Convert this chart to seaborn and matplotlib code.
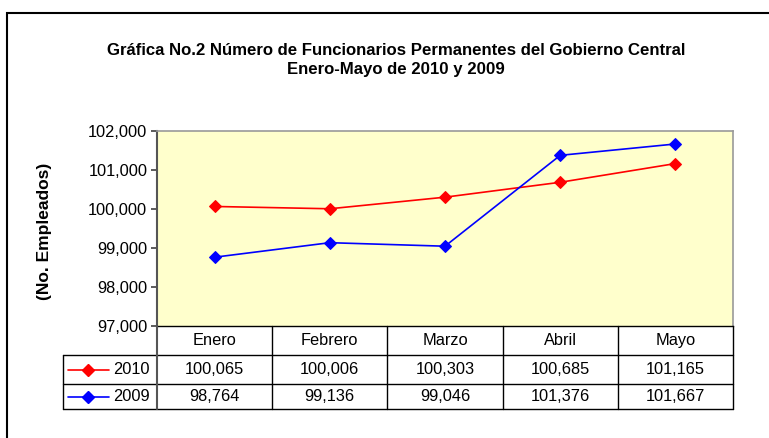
import matplotlib
matplotlib.use("Agg")
import matplotlib.pyplot as plt
import matplotlib.transforms as mtransforms
from matplotlib.lines import Line2D
from matplotlib.patches import Rectangle
import seaborn as sns
import pandas as pd

# ---- data ----
months = ["Enero", "Febrero", "Marzo", "Abril", "Mayo"]
series_names = ["2010", "2009"]
values_2010 = [100065, 100006, 100303, 100685, 101165]
values_2009 = [98764, 99136, 99046, 101376, 101667]
series_colors = {"2010": "#FF0000", "2009": "#0000FF"}
y_ticks = [97000, 98000, 99000, 100000, 101000, 102000]
title_text = "Gráfica No.2 Número de Funcionarios Permanentes del Gobierno Central\nEnero-Mayo de 2010 y 2009"
ylabel_text = "(No. Empleados)"

series_values = {"2010": values_2010, "2009": values_2009}
rows = []
for name in series_names:
    for i, (m, v) in enumerate(zip(months, series_values[name])):
        rows.append({"idx": i, "month": m, "year": name, "value": v})
df = pd.DataFrame(rows)

sns.set_style("white")
plt.rcParams["font.family"] = ["Liberation Sans", "DejaVu Sans"]
plt.rcParams["text.color"] = "black"
plt.rcParams["ytick.color"] = "#404040"
plt.rcParams["ytick.labelcolor"] = "black"

W, H = 769, 438
fig = plt.figure(figsize=(W / 100, H / 100), dpi=100)

def fx(px):
    return px / W

def fy(py):
    return 1 - py / H

left, right, top, bottom = 157, 733, 131, 326
ax = fig.add_axes([fx(left), fy(bottom), fx(right - left), (bottom - top) / H])
ax.set_facecolor("#FFFFCC")

sns.lineplot(data=df, x="idx", y="value", hue="year", hue_order=series_names,
             palette=series_colors, marker="D", markersize=6.5, linewidth=1.2,
             legend=False, ax=ax)
for ln in ax.lines:
    ln.set_markeredgecolor(ln.get_color())
    ln.set_markerfacecolor(ln.get_color())

ax.set_xlim(-0.5, len(months) - 0.5)
ax.set_ylim(y_ticks[0], y_ticks[-1])
ax.set_yticks(y_ticks)
ax.set_yticklabels([f"{t:,}" for t in y_ticks], fontsize=11.8, color="black")
ax.set_xticks([])
ax.set_xlabel("")
ax.set_ylabel("")
ax.tick_params(axis="y", direction="out", length=4, width=1.2, color="#404040",
               pad=3, left=True)
for s in ["top", "right"]:
    ax.spines[s].set_color("#999999")
    ax.spines[s].set_linewidth(1.2)
ax.spines["left"].set_color("#555555")
ax.spines["left"].set_linewidth(1.5)
ax.spines["bottom"].set_color("#000000")
ax.spines["bottom"].set_linewidth(1.0)

# title and y label
fig.text(fx(396), fy(60), title_text, ha="center", va="center",
         fontsize=12.1, fontweight="bold", linespacing=1.3, color="black")
fig.text(fx(45), fy(231), ylabel_text, ha="center", va="center",
         rotation=90, fontsize=12.5, fontweight="bold", color="black")

# ---- data table ----
tr = mtransforms.blended_transform_factory(ax.transData, fig.transFigure)
unit = (right - left) / len(months)
leg_left = -0.5 - (left - 63) / unit

def dx(px):
    return -0.5 + (px - left) / unit

lc = "#000000"
lw = 1.0
row_y = [326, 355, 384, 409]
for y in row_y[1:]:
    fig.add_artist(Line2D([leg_left, len(months) - 0.5], [fy(y), fy(y)],
                          transform=tr, color=lc, lw=lw))
for i in range(1, len(months) + 1):
    xb = i - 0.5
    fig.add_artist(Line2D([xb, xb], [fy(row_y[0]), fy(row_y[-1])],
                          transform=tr, color=lc, lw=lw))
fig.add_artist(Line2D([-0.5, -0.5], [fy(row_y[0]), fy(row_y[-1])],
                      transform=tr, color="#555555", lw=1.5))
fig.add_artist(Line2D([leg_left, leg_left], [fy(row_y[1]), fy(row_y[-1])],
                      transform=tr, color=lc, lw=lw))

for i, m in enumerate(months):
    fig.text(i, fy((row_y[0] + row_y[1]) / 2), m, transform=tr,
             ha="center", va="center", fontsize=11.8, color="black")
for r, name in enumerate(series_names):
    yc = fy((row_y[r + 1] + row_y[r + 2]) / 2)
    col = series_colors[name]
    fig.add_artist(Line2D([dx(68), dx(109)], [yc, yc], transform=tr,
                          color=col, lw=1.2))
    fig.add_artist(Line2D([dx(88)], [yc], transform=tr, color=col,
                          marker="D", markersize=6.5, mec=col, mfc=col))
    fig.text(dx(150), yc, name, transform=tr, ha="right", va="center",
             fontsize=11.8, color="black")
    for i, v in enumerate(series_values[name]):
        fig.text(i, yc, f"{v:,}", transform=tr, ha="center", va="center",
                 fontsize=11.8, color="black")

# outer chart frame
fig.add_artist(Rectangle((fx(7), -0.2), 1.2, fy(13) + 0.2,
                         transform=fig.transFigure, fill=False,
                         edgecolor="#000000", lw=1.5))

fig.savefig("out.png", dpi=100)
